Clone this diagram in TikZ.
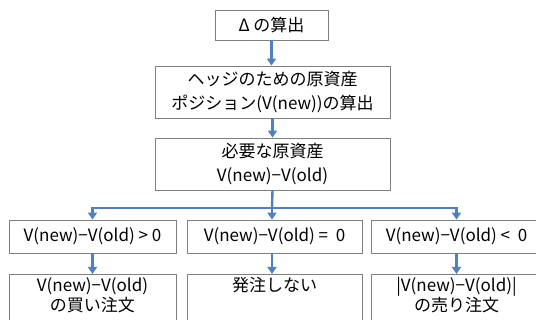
\documentclass[tikz,border=0pt]{standalone}
\usepackage{fontspec}
\setmainfont{Noto Sans CJK JP}
\usetikzlibrary{arrows.meta}
\definecolor{arrowblue}{HTML}{4F81BD}
\definecolor{boxgray}{HTML}{7F7F7F}
\begin{document}
\begin{tikzpicture}[x=1pt,y=-1pt,
  box/.style={draw=boxgray, line width=0.8pt, inner sep=0pt, align=center, font=\fontsize{17}{24}\selectfont},
  resbox/.style={box, anchor=north, inner ysep=2.5pt, minimum height=60pt, font=\fontsize{17}{20}\selectfont},
  link/.style={draw=arrowblue, line width=2.4pt},
  arr/.style={link, -{Triangle[length=7pt,width=9pt]}}]
\useasboundingbox (0,0) rectangle (536,320);
\clip (0,0) rectangle (536,320);
\node[box, minimum width=113pt, minimum height=30pt] (b1) at (271.5,25) {Δ の算出};
\node[box, minimum width=235pt, minimum height=52pt] (b2) at (272.5,92) {ヘッジのための原資産\\ポジション(V(new))の算出};
\node[box, minimum width=235pt, minimum height=52pt] (b3) at (272.5,164) {必要な原資産\\V(new)−V(old)};
\node[box, minimum width=167pt, minimum height=33pt] (cA) at (92.5,236.5) {V(new)−V(old) > 0};
\node[box, minimum width=175pt, minimum height=33pt] (cB) at (274.5,236.5) {V(new)−V(old) =\ \ 0};
\node[box, minimum width=171pt, minimum height=33pt] (cC) at (456.5,236.5) {V(new)−V(old) <\ \ 0};
\node[resbox, minimum width=167pt] (rA) at (92.5,274) {V(new)−V(old)\\の買い注文\\\mbox{}};
\node[resbox, minimum width=175pt] (rB) at (274.5,274) {発注しない\\\mbox{}\\\mbox{}};
\node[resbox, minimum width=171pt] (rC) at (456.5,274) {|V(new)−V(old)|\\の売り注文\\\mbox{}};
\coordinate (j) at (272,208);
\draw[arr] (b1.south) -- (b1.south |- b2.north);
\draw[arr] (b2.south) -- (b3.north);
\draw[link] (b3.south) -- (j);
\draw[arr] (j) -- (j |- cB.north);
\draw[arr] (j) -| (cA.north);
\draw[arr] (j) -| (cC.north);
\draw[arr] (cA.south) -- (rA.north);
\draw[arr] (j |- cB.south) -- (j |- rB.north);
\draw[arr] (cC.south) -- (rC.north);
\end{tikzpicture}
\end{document}
